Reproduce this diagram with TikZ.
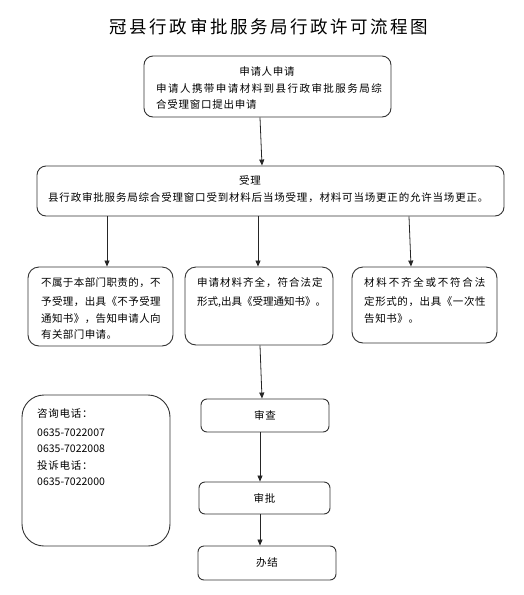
\documentclass[tikz,border=0pt]{standalone}
\usepackage{fontspec}
\setmainfont{Noto Sans CJK SC}
\usetikzlibrary{arrows.meta}
\newcommand{\lsp}[1]{\addfontfeature{LetterSpace=#1}}
\begin{document}
\begin{tikzpicture}[x=1pt,y=-1pt,
  box/.style={draw=black!80, line width=0.9pt, rounded corners=#1, inner sep=0pt},
  box/.default=9pt,
  body/.style={font=\fontsize{10.5}{12}\selectfont\lsp{7}},
  txt/.style={inner sep=0pt, anchor=base west, body},
  arr/.style={draw=black!85, line width=0.8pt, -{Triangle[length=6pt,width=5pt]}}]
\useasboundingbox (0,0) rectangle (524,595);

% title
\node[inner sep=0pt, anchor=base, font=\fontsize{17.5}{20}\selectfont\lsp{14.6}] (title) at (269,33.5) {冠县行政审批服务局行政许可流程图};

% boxes
\node[box, minimum width=247pt, minimum height=61pt] (b1) at (267.5,86.5) {};
\node[box, minimum width=467pt, minimum height=50pt] (b2) at (270.5,191) {};
\node[box=11pt, minimum width=145pt, minimum height=79pt] (b3a) at (100.5,306.5) {};
\node[box=11pt, minimum width=148pt, minimum height=78pt] (b3b) at (259,306) {};
\node[box=11pt, minimum width=145pt, minimum height=76pt] (b3c) at (424.5,305) {};
\node[box=22pt, minimum width=148pt, minimum height=151pt] (ct) at (96,470.5) {};
\node[box=6pt, body, minimum width=128pt, minimum height=33pt] (sc) at (265,415.5) {审查};
\node[box=6pt, body, minimum width=131pt, minimum height=32pt] (sp) at (264.5,498) {审批};
\node[box=6pt, body, minimum width=138pt, minimum height=34pt] (bj) at (267,563) {办结};

% box 1 text
\node[txt, anchor=base] (t1a) at (267,75) {申请人申请};
\node[txt] (t1b) at (156,92) {\lsp{13.8}申请人携带申请材料到县行政审批服务局综};
\node[txt] (t1c) at (156,108) {合受理窗口提出申请};

% box 2 text
\node[txt, anchor=base] (t2a) at (250,184) {受理};
\node[txt] (t2b) at (48,201) {\lsp{7.7}县行政审批服务局综合受理窗口受到材料后当场受理，材料可当场更正的允许当场更正。};

% box 3a text
\node[txt] (t3a1) at (41,286) {\lsp{3.8}不属于本部门职责的，不};
\node[txt] (t3a2) at (41,305) {\lsp{3.8}予受理，出具《不予受理};
\node[txt] (t3a3) at (41,322) {\lsp{3.8}通知书》，告知申请人向};
\node[txt] (t3a4) at (41,338) {\lsp{3.8}有关部门申请。};

% box 3b text
\node[txt] (t3b1) at (197,286) {\lsp{9.5}申请材料齐全，符合法定};
\node[txt] (t3b2) at (197,305) {\lsp{0}形式,出具《受理通知书》。};

% box 3c text
\node[txt] (t3c1) at (364,286) {\lsp{17}材料不齐全或不符合法};
\node[txt] (t3c2) at (364,305) {\lsp{5.7}定形式的，出具《一次性};
\node[txt] (t3c3) at (364,322) {\lsp{5.7}告知书》。};

% contact text
\node[txt] (c1) at (37,417) {咨询电话：};
\node[txt] (c2) at (37,436) {\lsp{0}0635-7022007};
\node[txt] (c3) at (37,452) {\lsp{0}0635-7022008};
\node[txt] (c4) at (37,469) {投诉电话：};
\node[txt] (c5) at (37,485) {\lsp{0}0635-7022000};

% arrows
\draw[arr] ([xshift=-7.5pt]b1.south) -- ([xshift=-8.5pt]b2.north);
\draw[arr] ([xshift=-163.5pt]b2.south) -- ([xshift=6.5pt]b3a.north);
\draw[arr] ([xshift=-12.5pt]b2.south) -- ([xshift=-1pt]b3b.north);
\draw[arr] ([xshift=138.5pt]b2.south) -- ([xshift=-13.5pt]b3c.north);
\draw[arr] ([xshift=1pt]b3b.south) -- ([xshift=-3pt]sc.north);
\draw[arr] ([xshift=-5pt]sc.south) -- ([xshift=-4.5pt]sp.north);
\draw[arr] ([xshift=-4.5pt]sp.south) -- ([xshift=-7pt]bj.north);
\end{tikzpicture}
\end{document}
